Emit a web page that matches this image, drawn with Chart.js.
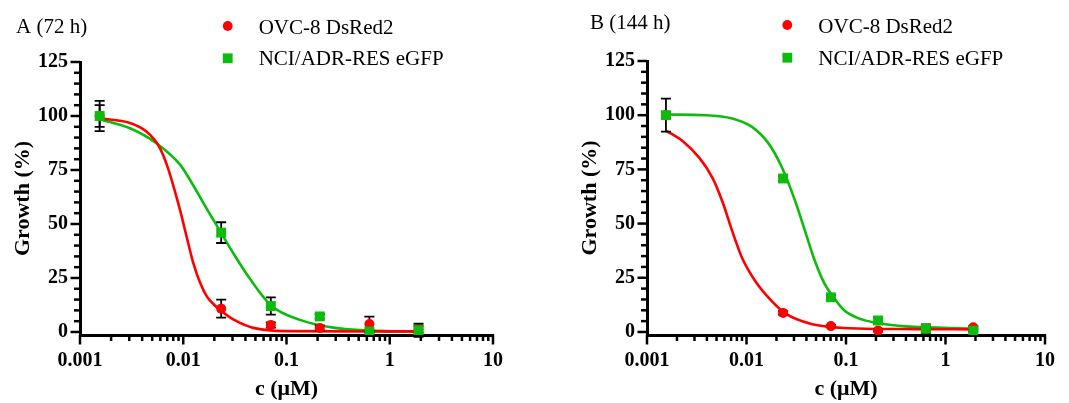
<!DOCTYPE html>
<html>
<head>
<meta charset="utf-8">
<title>Growth inhibition, 72 h and 144 h</title>
<script src="https://cdn.jsdelivr.net/npm/chart.js@4"></script>
<style>
  html, body { margin: 0; padding: 0; background: #fff; }
  body { width: 1069px; height: 403px; position: relative; overflow: hidden; }
  canvas { position: absolute; top: 0; }
  #chart-a { left: 0; }
  #chart-b { left: 534px; }
</style>
</head>
<body>
<canvas id="chart-a" width="534" height="403"></canvas>
<canvas id="chart-b" width="535" height="403"></canvas>
<script>
const seriesNames = ['OVC-8 DsRed2', 'NCI/ADR-RES eGFP'];
const concentrations = [0.00155, 0.0233, 0.0705, 0.21, 0.635, 1.9];

const xTickValues = [0.001, 0.01, 0.1, 1, 10];
const xTickLabels = ['0.001', '0.01', '0.1', '1', '10'];
const yTickLabels = ['0', '25', '50', '75', '100', '125'];

// 72 h measurements (mean, SD)
const ovcGrowth72 = [100, 10.8, 3.2, 1.8, 3.7, 1.2];
const ovcSd72 = [5, 4.2, 1.2, 1.2, 3.4, 1.5];
const adrGrowth72 = [100, 46, 12, 7.2, 0.2, 0.8];
const adrSd72 = [7, 4.8, 4, 1, 0.5, 3];

// 72 h fitted curves
const ovcFitConc72 = [0.00155, 0.00305, 0.0044, 0.0058, 0.0071, 0.0082, 0.0093, 0.0108, 0.0125, 0.0145, 0.0169, 0.02, 0.0232, 0.0305, 0.0476, 0.1, 0.4, 1.9];
const ovcFit72 = [98.9, 96.8, 92.8, 86, 76, 66, 56.5, 44, 32, 23, 16.5, 12.5, 9.8, 5.8, 1.9, 0.4, 0.3, 0.3];
const adrFitConc72 = [0.00155, 0.00305, 0.00553, 0.00931, 0.0116, 0.0169, 0.0232, 0.0305, 0.0444, 0.0719, 0.135, 0.284, 1.26, 1.9];
const adrFit72 = [98.5, 94.3, 87.3, 77.5, 70.5, 57, 46, 36.5, 24.5, 12, 5.6, 2, 0.2, 0.15];

// 144 h measurements (mean, SD)
const ovcGrowth144 = [100, 8.8, 2.7, 0.7, 1.4, 2.2];
const ovcSd144 = [1.5, 0.8, 0.6, 0.5, 1, 0.5];
const adrGrowth144 = [100, 70.8, 16, 5.3, 1.5, 0.6];
const adrSd144 = [7.6, 1, 1, 1.5, 2, 0.5];

// 144 h fitted curves
const ovcFitConc144 = [0.00155, 0.00229, 0.00336, 0.00455, 0.00571, 0.00719, 0.00904, 0.01227, 0.01795, 0.0247, 0.0448, 0.0752, 0.13, 0.5, 1.9];
const ovcFit144 = [92.9, 88, 80.3, 71.1, 60.3, 46.5, 34.1, 23.4, 14.2, 8.5, 3.7, 2.2, 1.6, 1.3, 1.2];
const adrFitConc144 = [0.00155, 0.00391, 0.00719, 0.01135, 0.01663, 0.02254, 0.0306, 0.0385, 0.0484, 0.0608, 0.0752, 0.0959, 0.13, 0.221, 0.4, 1.9];
const adrFit144 = [100.3, 100, 98.5, 94.6, 87, 76.2, 60.8, 47, 33.1, 22.3, 15.9, 10, 6.5, 3.9, 2.6, 1.6];

const serif = "'Liberation Serif', 'Times New Roman', serif";
const red = '#ff0000';
const green = '#0cbc0c';

const toPoints = (xs, ys) => xs.map((x, i) => ({ x: x, y: ys[i] }));

// long ticks on labelled values, short ones in between
const tickMarks = {
    id: 'tickMarks',
    afterDraw(chart) {
        const { ctx, chartArea } = chart;
        const xs = chart.scales.x;
        const ys = chart.scales.y;
        ctx.save();
        ctx.strokeStyle = '#000';
        ctx.lineWidth = 2.5;
        xs.ticks.forEach(t => {
            const px = xs.getPixelForValue(t.value);
            const len = t.label ? 9.5 : 6;
            ctx.beginPath();
            ctx.moveTo(px, chartArea.bottom);
            ctx.lineTo(px, chartArea.bottom + len);
            ctx.stroke();
        });
        ys.ticks.forEach(t => {
            const py = ys.getPixelForValue(t.value);
            const len = t.label ? 9.5 : 6;
            ctx.beginPath();
            ctx.moveTo(chartArea.left, py);
            ctx.lineTo(chartArea.left - len, py);
            ctx.stroke();
        });
        ctx.restore();
    }
};

// SD bars, drawn under the symbols
const errorBars = {
    id: 'errorBars',
    beforeDatasetDraw(chart, args) {
        if (args.index !== 1) return;
        const { ctx } = chart;
        const xs = chart.scales.x;
        const ys = chart.scales.y;
        ctx.save();
        ctx.strokeStyle = '#000';
        ctx.lineWidth = 1.8;
        chart.data.datasets.forEach(ds => {
            if (!ds.errors) return;
            ds.data.forEach((p, i) => {
                const sd = ds.errors[i];
                if (!sd) return;
                const px = xs.getPixelForValue(p.x);
                const top = ys.getPixelForValue(p.y + sd);
                const bot = ys.getPixelForValue(p.y - sd);
                ctx.beginPath();
                ctx.moveTo(px, top);
                ctx.lineTo(px, bot);
                ctx.moveTo(px - 5, top);
                ctx.lineTo(px + 5, top);
                ctx.moveTo(px - 5, bot);
                ctx.lineTo(px + 5, bot);
                ctx.stroke();
            });
        });
        ctx.restore();
    }
};

// panel letter and the symbol key
const panelHeader = {
    id: 'panelHeader',
    afterDraw(chart, args, opts) {
        const { ctx } = chart;
        ctx.save();
        ctx.fillStyle = '#000';
        ctx.font = '21px ' + serif;
        ctx.textBaseline = 'alphabetic';
        ctx.textAlign = 'left';
        ctx.fillText(opts.title, opts.titleX, opts.titleY);

        const entries = chart.data.datasets
            .filter(ds => ds.keyIndex !== undefined)
            .sort((a, b) => a.keyIndex - b.keyIndex);
        entries.forEach((ds, i) => {
            const cy = opts.keyY[i];
            ctx.fillStyle = ds.backgroundColor;
            if (ds.pointStyle === 'rect') {
                ctx.fillRect(opts.keyX - 4.9, cy - 4.9, 9.8, 9.8);
            } else {
                ctx.beginPath();
                ctx.arc(opts.keyX, cy, 4.9, 0, Math.PI * 2);
                ctx.fill();
            }
            ctx.fillStyle = '#000';
            ctx.fillText(ds.label, opts.keyX + 31, opts.keyBase[i]);
        });
        ctx.restore();
    }
};

function makePanel(canvasId, header, padding, data) {
    const ctx = document.getElementById(canvasId).getContext('2d');
    // datasets are painted last-to-first, so the symbols sit on top
    return new Chart(ctx, {
        type: 'scatter',
        data: {
            datasets: [
                {
                    label: seriesNames[1],
                    keyIndex: 1,
                    data: toPoints(concentrations, data.adr),
                    errors: data.adrSd,
                    pointStyle: 'rect',
                    pointRadius: 7,
                    backgroundColor: green,
                    borderWidth: 0
                },
                {
                    label: seriesNames[0],
                    keyIndex: 0,
                    data: toPoints(concentrations, data.ovc),
                    errors: data.ovcSd,
                    pointStyle: 'circle',
                    pointRadius: 5,
                    backgroundColor: red,
                    borderWidth: 0
                },
                {
                    label: seriesNames[0] + ' fit',
                    data: toPoints(data.ovcFitConc, data.ovcFit),
                    showLine: true,
                    pointRadius: 0,
                    borderColor: red,
                    borderWidth: 2.6,
                    cubicInterpolationMode: 'monotone'
                },
                {
                    label: seriesNames[1] + ' fit',
                    data: toPoints(data.adrFitConc, data.adrFit),
                    showLine: true,
                    pointRadius: 0,
                    borderColor: green,
                    borderWidth: 2.6,
                    cubicInterpolationMode: 'monotone'
                }
            ]
        },
        options: {
            responsive: false,
            animation: false,
            events: [],
            layout: { padding: padding },
            plugins: {
                legend: { display: false },
                tooltip: { enabled: false },
                panelHeader: header
            },
            scales: {
                x: {
                    type: 'logarithmic',
                    min: 0.001,
                    max: 10,
                    afterFit: scale => { scale.height = 68; },
                    afterBuildTicks: scale => {
                        // keep 1..9 per decade
                        scale.ticks = scale.ticks.filter(t => {
                            const m = t.value / Math.pow(10, Math.floor(Math.log10(t.value) + 1e-9));
                            return Math.abs(m - Math.round(m)) < 1e-6;
                        });
                    },
                    grid: { display: false, drawTicks: false },
                    border: { display: true, color: '#000', width: 3 },
                    ticks: {
                        autoSkip: false,
                        maxRotation: 0,
                        padding: 14,
                        color: '#000',
                        font: { family: serif, size: 20, weight: 'bold' },
                        callback: value => {
                            const k = xTickValues.findIndex(v => Math.abs(v - value) / v < 1e-6);
                            return k >= 0 ? xTickLabels[k] : '';
                        }
                    },
                    title: {
                        display: true,
                        text: 'c (μM)',
                        color: '#000',
                        font: { family: serif, size: 22, weight: 'bold' },
                        padding: { top: 0, bottom: 0 }
                    }
                },
                y: {
                    min: -1.4,
                    max: 125,
                    afterFit: scale => { scale.width = 80; },
                    grid: { display: false, drawTicks: false },
                    border: { display: true, color: '#000', width: 3 },
                    ticks: {
                        stepSize: 5,
                        includeBounds: false,
                        autoSkip: false,
                        padding: 12,
                        color: '#000',
                        font: { family: serif, size: 20, weight: 'bold' },
                        callback: value => (yTickLabels.includes(String(value)) ? String(value) : '')
                    },
                    title: {
                        display: true,
                        text: 'Growth (%)',
                        color: '#000',
                        font: { family: serif, size: 22, weight: 'bold' },
                        padding: { top: 10, bottom: 0 }
                    }
                }
            }
        },
        plugins: [errorBars, tickMarks, panelHeader]
    });
}

makePanel('chart-a',
    { title: 'A (72 h)', titleX: 16, titleY: 33.3, keyX: 227.7, keyY: [26, 58.3], keyBase: [34.3, 65] },
    { left: 0, right: 41, top: 62, bottom: 0 },
    {
        ovc: ovcGrowth72, ovcSd: ovcSd72, adr: adrGrowth72, adrSd: adrSd72,
        ovcFitConc: ovcFitConc72, ovcFit: ovcFit72, adrFitConc: adrFitConc72, adrFit: adrFit72
    });

makePanel('chart-b',
    { title: 'B (144 h)', titleX: 56, titleY: 29, keyX: 253.3, keyY: [25, 57.7], keyBase: [33.3, 65] },
    { left: 33, right: 19, top: 61, bottom: 0 },
    {
        ovc: ovcGrowth144, ovcSd: ovcSd144, adr: adrGrowth144, adrSd: adrSd144,
        ovcFitConc: ovcFitConc144, ovcFit: ovcFit144, adrFitConc: adrFitConc144, adrFit: adrFit144
    });
</script>
</body>
</html>
